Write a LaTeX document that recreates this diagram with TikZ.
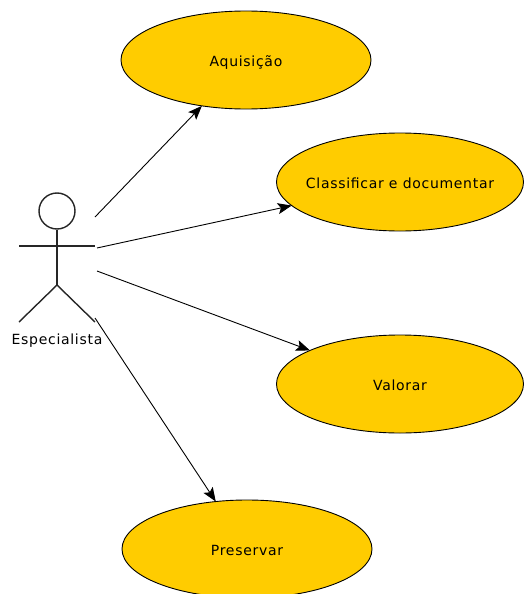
\documentclass[tikz,border=0pt]{standalone}
\usepackage{fontspec}
\setmainfont[LetterSpace=5]{DejaVu Sans}
\usetikzlibrary{shapes.geometric,arrows.meta}
\newcommand{\uctext}[1]{\raisebox{-6pt}[0pt][0pt]{\makebox[0pt]{#1}}}
\begin{document}
\begin{tikzpicture}[x=1pt,y=-1pt,thick,
    usecase/.style={ellipse,draw=black,fill=ucfill,line width=0.9pt,inner sep=0pt,font=\fontsize{14}{16}\selectfont},
    link/.style={-{Stealth[length=14pt,width=11pt,inset=3pt]},line width=0.9pt,shorten >=-0.5pt},
    limb/.style={line width=1.4pt,draw=black!85}]
      \definecolor{ucfill}{HTML}{FFCC00}
      \useasboundingbox (0,0) rectangle (523,594);
      \node[usecase,minimum width=250pt,minimum height=98pt] (AQ) at (246,60) {\uctext{Aquisição}};
      \node[usecase,minimum width=247pt,minimum height=98pt] (CD) at (400,182) {\uctext{Classificar e documentar}};
      \node[usecase,minimum width=247pt,minimum height=98pt] (VA) at (400,384) {\uctext{Valorar}};
      \node[usecase,minimum width=250pt,minimum height=98pt] (PR) at (247,549) {\uctext{Preservar}};
      % actor
      \node[circle,draw=black,limb,minimum size=36pt,inner sep=0pt] (head) at (57,211) {};
      \coordinate (hip) at (57,285);
      \coordinate (armL) at (19,246);
      \coordinate (armR) at (95,246);
      \coordinate (footL) at (19,322);
      \coordinate (footR) at (95,322);
      \draw[limb] (head) -- (hip);
      \draw[limb] (armL) -- (armR);
      \draw[limb] (footL) -- (hip) -- (footR);
      \node[font=\fontsize{14}{16}\selectfont] (ES) at (57,341) {Especialista};
      % links
      \coordinate (s1) at (95,217);
      \coordinate (s2) at (97,248);
      \coordinate (s3) at (97,271);
      \coordinate (s4) at (95,318);
      \draw[link] (s1) -- (AQ);
      \draw[link] (s2) -- (CD);
      \draw[link] (s3) -- (VA);
      \draw[link] (s4) -- (PR);
\end{tikzpicture}
\end{document}
